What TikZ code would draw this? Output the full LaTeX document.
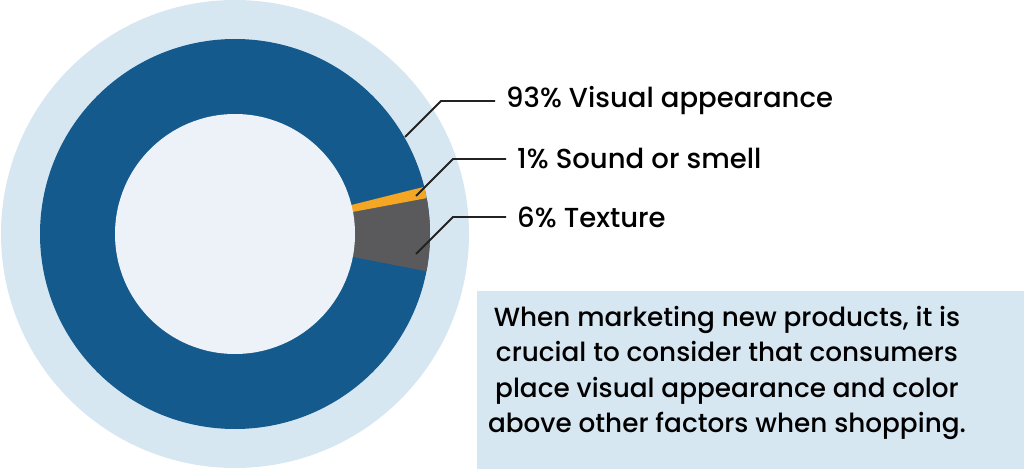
\documentclass[tikz,border=0pt]{standalone}
\usepackage{fontspec}
\setmainfont{Poppins Medium}
\definecolor{ringlight}{HTML}{D6E7F2}
\definecolor{ringblue}{HTML}{155A8D}
\definecolor{coreblue}{HTML}{EDF2F8}
\definecolor{soundorange}{HTML}{F5A623}
\definecolor{texturegray}{HTML}{5A5A5C}
\definecolor{leadergray}{HTML}{222222}
\tikzset{
  leader/.style={leadergray, line width=1.8pt},
  label/.style={anchor=west, inner xsep=11pt, inner ysep=0pt, font=\fontsize{27.5}{30}\selectfont}
}
\begin{document}
\begin{tikzpicture}[x=1pt,y=1pt]
  \useasboundingbox (0,0) rectangle (1024,469);

  % Draw the rings
  \coordinate (C) at (235,235);
  \fill[ringlight] (C) circle (234pt);
  \fill[ringblue] (C) circle (195pt);

  % Draw the texture and sound slices
  \fill[texturegray] (C) -- ++(-11:195pt) arc (-11:10.6:195pt) -- cycle;
  \fill[soundorange] (C) -- ++(10.6:195pt) arc (10.6:14:195pt) -- cycle;

  \fill[coreblue] (C) circle (120pt);

  % Label the slices
  \node[label] (visual) at (495,368) {93\% Visual appearance};
  \node[label] (sound) at (506,310) {1\% Sound or smell};
  \node[label] (texture) at (506,252) {6\% Texture};

  \coordinate (visualpt) at (405,332);
  \coordinate (soundpt) at (416,273);
  \coordinate (texturept) at (416,215);

  \draw[leader] (visualpt) -- (441,368) -- (visual.west);
  \draw[leader] (soundpt) -- (453,310) -- (sound.west);
  \draw[leader] (texturept) -- (453,252) -- (texture.west);

  % Draw the note box
  \fill[ringlight] (477,0) rectangle (1024,178);
  \node[align=center, font=\fontsize{26.3}{35.5}\selectfont] (note) at (727,96)
    {When marketing new products, it is\\crucial to consider that consumers\\place visual appearance and color\\above other factors when shopping.};

\end{tikzpicture}
\end{document}
